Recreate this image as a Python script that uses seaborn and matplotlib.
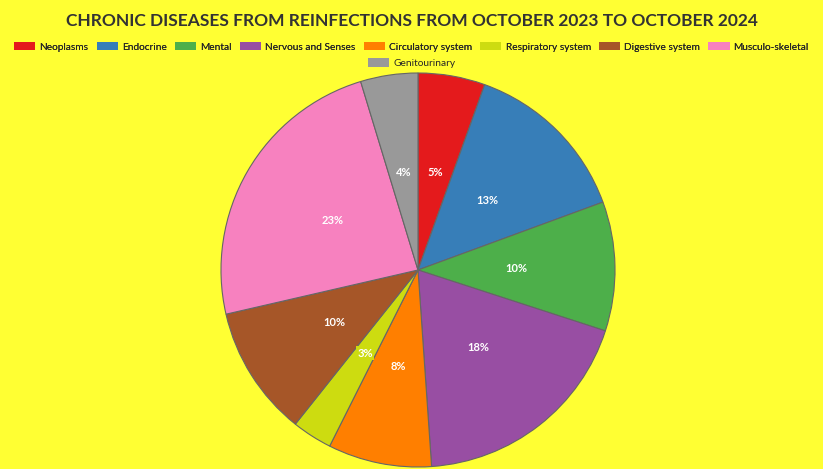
import matplotlib
matplotlib.use("Agg")
import matplotlib.pyplot as plt
import seaborn as sns
import math

sns.set_theme(style="white")
plt.rcParams['font.family'] = ['Lato', 'DejaVu Sans']

categories = ["Neoplasms", "Endocrine", "Mental", "Nervous and Senses", "Circulatory system",
              "Respiratory system", "Digestive system", "Musculo-skeletal", "Genitourinary"]
values = [5.5, 13.9, 10.6, 18.9, 8.5, 3.3, 10.7, 23.9, 4.7]
colors = ["#e41a1c", "#377eb8", "#4daf4a", "#984ea3", "#ff7f00",
          "#cddc10", "#a65628", "#f781bf", "#999999"]
bg = "#ffff33"

fig = plt.figure(figsize=(8.23, 4.69), dpi=100, facecolor=bg)
r = 197
ax = fig.add_axes([(418 - r) / 823, (469 - 270 - r) / 469, 2 * r / 823, 2 * r / 469])
ax.set_facecolor(bg)
wedges, texts, autotexts = ax.pie(
    values, colors=colors, startangle=90, counterclock=False,
    autopct=lambda p: f"{int(math.floor(p))}%", pctdistance=0.5,
    wedgeprops=dict(edgecolor="#666666", linewidth=0.8),
    textprops=dict(color="white", fontsize=8, fontweight="bold"))
ax.set_aspect("equal")
ax.set_xlim(-1.0, 1.0)
ax.set_ylim(-1.0, 1.0)
autotexts[5].set_bbox(dict(facecolor="#cddc10", edgecolor="none", pad=1))

fig.text(0.5, 0.955, "CHRONIC DISEASES FROM REINFECTIONS FROM OCTOBER 2023 TO OCTOBER 2024",
         ha="center", va="center", fontsize=12.5, fontweight="bold", color="#333333")

from matplotlib.patches import Patch
handles = [Patch(facecolor=c, edgecolor="none") for c in colors]
kw = dict(frameon=False, fontsize=7.3, handlelength=2.1, handleheight=0.9,
          handletextpad=0.4, columnspacing=0.8)
leg1 = fig.legend(handles[:8], categories[:8], loc="center", bbox_to_anchor=(0.5, 0.9),
                  ncol=8, **kw)
fig.add_artist(leg1)
fig.legend(handles[8:], categories[8:], loc="center", bbox_to_anchor=(0.5, 0.865),
           ncol=1, **kw)

fig.savefig("out.png", dpi=100, facecolor=bg)
